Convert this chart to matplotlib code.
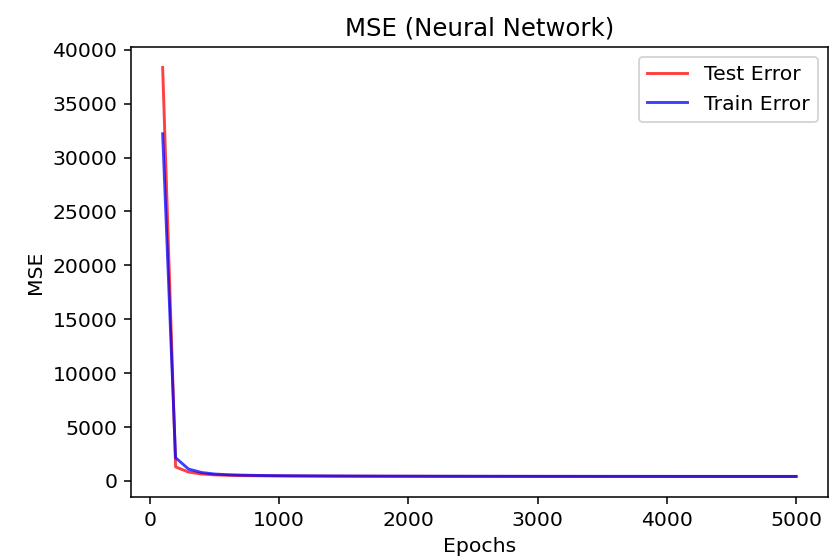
import matplotlib.pyplot as plt

epochs = list(range(100, 5001, 100))

test_error = [38350, 1300, 820, 640, 560, 520, 495, 480, 468, 460,
              453, 448, 444, 440, 437, 434, 432, 430, 428, 426,
              425, 423, 422, 421, 420, 419, 418, 417, 416, 415,
              414, 414, 413, 412, 412, 411, 411, 410, 410, 409,
              409, 408, 408, 407, 407, 407, 406, 406, 406, 405]

train_error = [32200, 2150, 1100, 780, 640, 575, 540, 515, 498, 486,
               477, 470, 464, 459, 455, 451, 448, 445, 443, 441,
               439, 437, 436, 434, 433, 432, 431, 430, 429, 428,
               427, 427, 426, 425, 425, 424, 424, 423, 423, 422,
               422, 421, 421, 421, 420, 420, 420, 419, 419, 419]

plt.rcParams['font.size'] = 10.5

dpi = 139.5
fig = plt.figure(figsize=(837 / dpi, 560 / dpi), dpi=dpi)
ax = fig.add_axes([0.1565, 0.1125, 0.8325, 0.8035])

ax.plot(epochs, test_error, color='red', alpha=0.75, label='Test Error')
ax.plot(epochs, train_error, color='blue', alpha=0.75, label='Train Error')

ax.set_title("MSE (Neural Network)")
ax.set_xlabel("Epochs")
ax.set_ylabel("MSE")
ax.legend(loc='upper right')

fig.savefig("out.png", dpi=dpi)
